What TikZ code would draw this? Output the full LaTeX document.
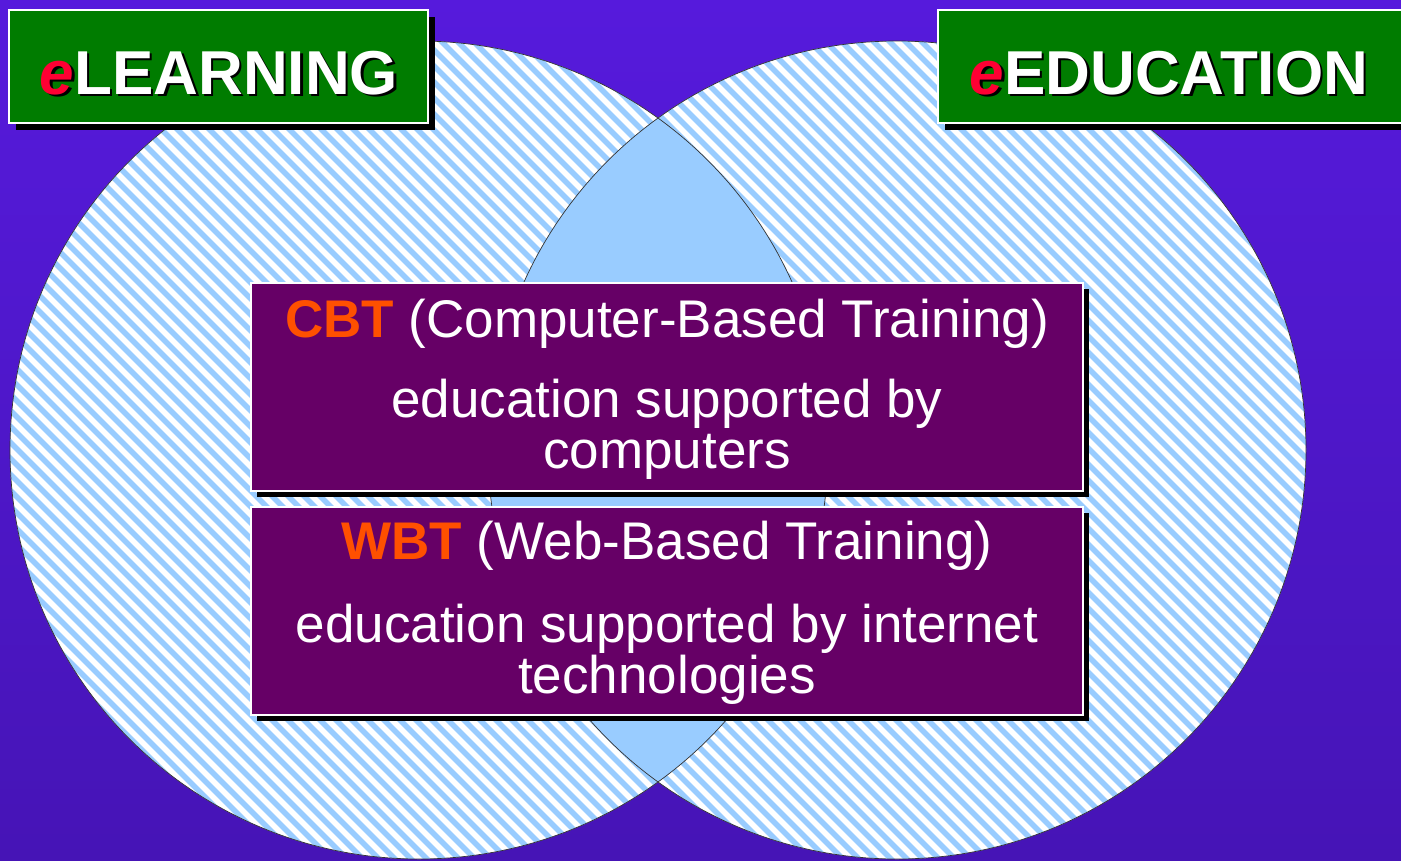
\documentclass[tikz,border=0pt]{standalone}
\usepackage{fontspec}
\setmainfont{Liberation Sans}
\usepackage{tikz}
\usetikzlibrary{shadows}

\definecolor{bgtop}{RGB}{86,26,220}
\definecolor{bgbot}{RGB}{70,20,182}
\definecolor{stripeblue}{RGB}{153,204,255}
\definecolor{boxgreen}{RGB}{0,124,0}
\definecolor{boxpurple}{RGB}{102,0,102}
\definecolor{ered}{RGB}{255,0,51}
\definecolor{abbrorange}{RGB}{255,80,0}

\newcommand\shadowed[2]{\rlap{\kern2.5pt\raisebox{-2.5pt}{\color{black}#2}}{\color{#1}#2}}

\begin{document}
\begin{tikzpicture}[x=1pt,y=-1pt]
\tikzstyle{titlebox}=[draw=white,line width=1.5pt,fill=boxgreen,
  general shadow={fill=black,shadow xshift=7pt,shadow yshift=-7pt}]
\tikzstyle{infobox}=[draw=white,line width=1.5pt,fill=boxpurple,
  minimum width=832pt,minimum height=208pt,
  general shadow={fill=black,shadow xshift=6pt,shadow yshift=-6pt}]
\tikzstyle{titletext}=[inner sep=0pt,anchor=base,
  font=\fontsize{62}{62}\selectfont\bfseries]
\tikzstyle{infotext}=[inner sep=0pt,anchor=base,text=white,
  font=\fontsize{53}{53}\selectfont]
\useasboundingbox (0,0) rectangle (1401,860);
\shade[top color=bgtop,bottom color=bgbot] (0,0) rectangle (1401,860);
% the two circles, striped
\fill[white] (419,450) circle[radius=409pt] (897,450) circle[radius=409pt];
\begin{scope}
\clip (419,450) circle[radius=409pt] (897,450) circle[radius=409pt];
\foreach \s in {-912,-896,...,1400}
  \draw[stripeblue,line width=5.5pt] (\s,0) -- ++(900,900);
\end{scope}
% overlap
\begin{scope}
\clip (419,450) circle[radius=409pt];
\fill[stripeblue] (897,450) circle[radius=409pt];
\end{scope}
\draw[black!80,line width=0.7pt] (419,450) circle[radius=409pt] (897,450) circle[radius=409pt];
% headings
\node[titlebox,minimum width=419pt,minimum height=113pt] (lbox) at (218.5,66.5) {};
\node[titlebox,minimum width=482pt,minimum height=113pt] (rbox) at (1179,66.5) {};
\node[titletext] (ltext) at (219,94) {\shadowed{ered}{\textit{e}}\shadowed{white}{LEARNING}};
\node[titletext] (rtext) at (1169,94) {\shadowed{ered}{\textit{e}}\shadowed{white}{EDUCATION}};
% the two definitions
\node[infobox] (cbt) at (667,387) {};
\node[infobox] (wbt) at (667,611) {};
\node[infotext] (cbthead) at (667,337) {\textcolor{abbrorange}{\textbf{CBT}} (Computer-Based Training)};
\node[infotext] (cbtline1) at (667,417) {education supported by};
\node[infotext] (cbtline2) at (667,468) {computers};
\node[infotext] (wbthead) at (667,559) {\textcolor{abbrorange}{\textbf{WBT}} (Web-Based Training)};
\node[infotext] (wbtline1) at (667,642) {education supported by internet};
\node[infotext] (wbtline2) at (667,693) {technologies};
\end{tikzpicture}
\end{document}
